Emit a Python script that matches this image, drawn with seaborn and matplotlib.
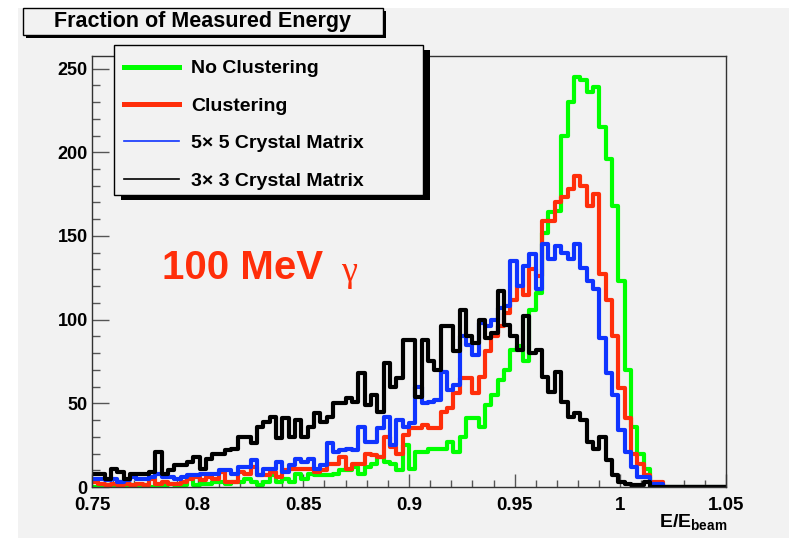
import numpy as np
import pandas as pd
import matplotlib
matplotlib.use('Agg')
import matplotlib.pyplot as plt
from matplotlib.patches import Rectangle
from matplotlib.lines import Line2D
import seaborn as sns

# histogram contents, 100 bins between 0.75 and 1.05
x_lo, x_hi, n_bins = 0.75, 1.05, 100

no_clustering = [0, 1, 1, 0, 3, 1, 1, 0, 1, 0, 1, 1, 2, 1, 1, 6,
                 1, 2, 2, 3, 3, 2, 3, 3, 5, 3, 1, 3, 7, 3, 5, 3, 8, 5,
                 8, 7, 7, 7, 8, 10, 10, 12, 8, 12, 14, 18, 15, 14, 10,
                 25, 11, 21, 21, 23, 23, 23, 27, 21, 30, 41, 41, 36, 49, 55, 64, 70, 82,
                 84, 75, 106, 116, 152, 164, 165, 210, 230, 245, 243, 236, 239, 215, 196,
                 168, 123, 70, 36, 20, 11, 2,
                 0, 0, 0, 0, 0, 0, 0, 0, 0, 0, 0]
clustering = [3, 2, 1, 2, 1, 2, 1, 2, 1, 5, 2, 3, 2, 2, 3, 5,
              6, 4, 6, 5, 9, 3, 3, 9, 8, 12, 7, 7, 9, 6, 10, 11, 11, 11,
              11, 9, 10, 14, 14, 18, 11, 14, 14, 20, 19, 18, 30, 24, 20,
              31, 35, 35, 37, 35, 35, 45, 47, 56, 65, 65, 56, 66, 81, 90, 96, 104, 112,
              120, 115, 130, 126, 159, 159, 170, 173, 178, 186, 180, 168, 175, 127, 112,
              90, 59, 41, 20, 14, 7, 3,
              3, 0, 0, 0, 0, 0, 0, 0, 0, 0, 0]
matrix_5x5 = [5, 5, 4, 5, 3, 4, 6, 5, 5, 6, 8, 6, 6, 5, 6, 7,
              7, 8, 8, 8, 10, 10, 8, 12, 12, 16, 7, 11, 11, 15, 9, 13, 17, 15,
              17, 11, 13, 26, 21, 22, 23, 22, 36, 27, 27, 35, 42, 25, 40,
              36, 38, 60, 50, 51, 52, 69, 58, 61, 90, 85, 79, 98, 96, 100, 107, 108, 135,
              120, 132, 139, 118, 145, 136, 144, 140, 136, 145, 131, 123, 118, 89, 68,
              55, 34, 21, 12, 6, 6, 2,
              2, 0, 0, 0, 0, 0, 0, 0, 0, 0, 0]
matrix_3x3 = [8, 8, 5, 11, 9, 5, 8, 8, 8, 9, 21, 8, 10, 13, 13, 15,
              18, 11, 17, 20, 20, 22, 23, 30, 30, 26, 36, 39, 42, 29, 41, 30, 40, 30,
              36, 44, 39, 42, 50, 50, 53, 51, 68, 49, 55, 45, 74, 60, 65,
              88, 88, 54, 88, 75, 70, 96, 96, 81, 106, 90, 86, 100, 89, 92, 117, 97, 90,
              82, 102, 80, 82, 66, 57, 69, 51, 42, 44, 40, 27, 23, 30, 16,
              7, 3, 2, 1, 1, 3, 0,
              0, 0, 0, 0, 0, 0, 0, 0, 0, 0, 0]

labels = ['No Clustering', 'Clustering', '5\u00d7 5 Crystal Matrix', '3\u00d7 3 Crystal Matrix']
colors = ['#00ff00', '#ff2e0a', '#0f34ff', '#000000']
legend_widths = [3.6, 3.6, 1.2, 1.2]

x_ticks = [0.75, 0.8, 0.85, 0.9, 0.95, 1.0, 1.05]
x_ticklabels = ['0.75', '0.8', '0.85', '0.9', '0.95', '1', '1.05']
y_ticks = [0, 50, 100, 150, 200, 250]

W, H = 789, 538
fx = lambda p: p / W
fy = lambda p: 1 - p / H
bg = '#f2f2f2'

plt.rcParams['font.family'] = ['Liberation Sans', 'DejaVu Sans']
plt.rcParams['mathtext.fontset'] = 'custom'
plt.rcParams['mathtext.bf'] = 'Liberation Sans:bold'
plt.rcParams['mathtext.rm'] = 'Liberation Sans'

fig = plt.figure(figsize=(W / 100, H / 100), dpi=100, facecolor='white')
fig.patches.append(Rectangle((fx(18), 0), 1 - fx(18), fy(8), transform=fig.transFigure,
                             facecolor=bg, edgecolor='none', zorder=-10))
ax = fig.add_axes([fx(92), fy(487), fx(726 - 92), (487 - 56) / H])
ax.set_facecolor(bg)

width = (x_hi - x_lo) / n_bins
centers = x_lo + width * (np.arange(n_bins) + 0.5)
df = pd.DataFrame({'x': np.tile(centers, 4),
                   'count': np.concatenate([no_clustering, clustering, matrix_5x5, matrix_3x3]),
                   'series': np.repeat(labels, n_bins)})

# draw one by one so green is at the bottom and black on top
for lab, col in zip(labels, colors):
    sns.histplot(data=df[df['series'] == lab], x='x', weights='count', bins=n_bins,
                 binrange=(x_lo, x_hi), element='step', fill=False, color=col,
                 linewidth=3.0, ax=ax)

ax.set_xlim(x_lo, x_hi)
ax.set_ylim(0, 257.5)
ax.set_xlabel('')
ax.set_ylabel('')
ax.set_xticks(x_ticks, x_ticklabels, fontsize=13.5, fontweight='bold')
ax.set_xticks(np.arange(0.75, 1.0501, 0.01), minor=True)
ax.set_yticks(y_ticks, [str(v) for v in y_ticks], fontsize=13, fontweight='bold')
ax.set_yticks(np.arange(0, 251, 10), minor=True)
ax.tick_params(axis='x', which='major', direction='in', length=9.5, width=1, color='#555555', pad=7)
ax.tick_params(axis='x', which='minor', direction='in', length=5, width=1, color='#555555')
ax.tick_params(axis='y', which='major', direction='in', length=12.5, width=1, color='#555555', pad=3)
ax.tick_params(axis='y', which='minor', direction='in', length=6, width=1, color='#555555')
for s in ax.spines.values():
    s.set_color('#333333')
    s.set_linewidth(1)

# x axis title
fig.text(fx(727), fy(528), r'$\mathbf{E/E}_{\mathbf{beam}}$', ha='right', va='baseline', fontsize=14)

# title box with shadow
fig.patches.append(Rectangle((fx(26), fy(38)), fx(360), 27 / H, transform=fig.transFigure,
                             facecolor='black', edgecolor='none', zorder=5))
fig.patches.append(Rectangle((fx(23), fy(35)), fx(360), 27 / H, transform=fig.transFigure,
                             facecolor=bg, edgecolor='black', linewidth=1, zorder=6))
fig.text(fx(203), fy(22), 'Fraction of Measured Energy', ha='center', va='center',
         fontsize=15.5, fontweight='bold', zorder=7)

# legend box with shadow
fig.patches.append(Rectangle((fx(121), fy(200)), fx(309), 150 / H, transform=fig.transFigure,
                             facecolor='black', edgecolor='none', zorder=5))
fig.patches.append(Rectangle((fx(114), fy(195)), fx(309), 150 / H, transform=fig.transFigure,
                             facecolor=bg, edgecolor='black', linewidth=1, zorder=6))
handles = [Line2D([], [], color=c, lw=w) for c, w in zip(colors, legend_widths)]
leg = fig.legend(handles, labels, loc='upper left', bbox_to_anchor=(fx(114), fy(50)),
                 frameon=False, prop={'weight': 'bold', 'size': 14}, handlelength=2.85,
                 handletextpad=0.6, labelspacing=1.02, borderpad=0.5, borderaxespad=0)
leg.set_zorder(8)

# energy label
fig.text(fx(162), fy(279), '100 MeV', color='#ff2e0a', fontsize=29, fontweight='bold', va='baseline')
fig.text(fx(341), fy(281), '\u03b3', color='#ff2e0a', fontsize=26, va='baseline',
         family=['Liberation Serif', 'DejaVu Serif'])

fig.savefig('out.png', dpi=100, facecolor=fig.get_facecolor())
